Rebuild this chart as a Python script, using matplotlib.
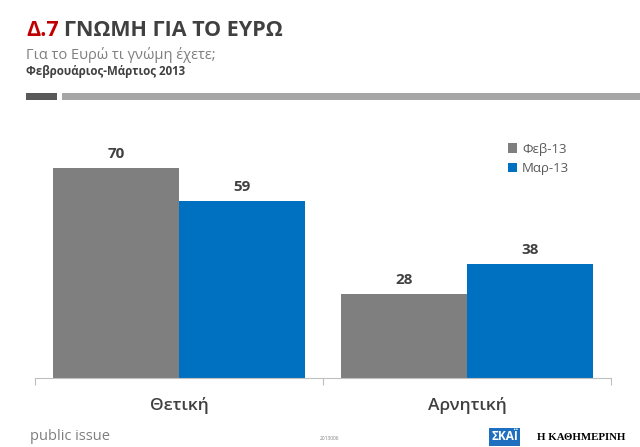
import matplotlib.pyplot as plt
import numpy as np
from matplotlib.patches import Rectangle

plt.rcParams['font.family'] = ['Open Sans', 'DejaVu Sans']

categories = ['Θετική', 'Αρνητική']
series_names = ['Φεβ-13', 'Μαρ-13']
feb = [70, 28]
mar = [59, 38]
colors = ['#7f7f7f', '#0070c0']

fig = plt.figure(figsize=(6.4, 4.47), dpi=100)
ax = fig.add_axes([0.0547, 0.1544, 0.9, 0.537])

x = np.arange(len(categories))
w = 0.4375
b1 = ax.bar(x - w / 2, feb, w, color=colors[0], label=series_names[0])
b2 = ax.bar(x + w / 2, mar, w, color=colors[1], label=series_names[1])
for bars in (b1, b2):
    for r in bars:
        ax.text(r.get_x() + r.get_width() / 2, r.get_height() + 2.3, str(int(r.get_height())),
                ha='center', va='bottom', fontsize=11, fontweight='bold', color='#404040')

ax.set_xlim(-0.5, 1.5)
ax.set_ylim(0, 80)
ax.set_yticks([])
ax.set_xticks([-0.5, 0.5, 1.5])
ax.set_xticklabels([])
ax.set_xticks(x, minor=True)
ax.set_xticklabels(categories, minor=True, fontsize=12.5, color='#404040', fontweight='semibold')
ax.tick_params(axis='x', which='minor', length=0, pad=14)
ax.tick_params(axis='x', which='major', length=5, color='#bfbfbf', direction='out')
for s in ['top', 'right', 'left']:
    ax.spines[s].set_visible(False)
ax.spines['bottom'].set_color('#bfbfbf')

leg = ax.legend(loc='upper left', bbox_to_anchor=(0.8, 1.03), frameon=False, fontsize=9.5,
                handlelength=0.7, handleheight=0.7, handletextpad=0.4, labelspacing=0.5)
for t in leg.get_texts():
    t.set_color('#595959')

# header
fig.text(26 / 640, 1 - 30 / 447, 'Δ.7', fontsize=15.5, fontweight='bold', color='#c00000', va='center')
fig.text(64 / 640, 1 - 30 / 447, 'ΓΝΩΜΗ ΓΙΑ ΤΟ ΕΥΡΩ', fontsize=15.5, fontweight='bold', color='#404040', va='center')
fig.text(26 / 640, 1 - 55 / 447, 'Για το Ευρώ τι γνώμη έχετε;', fontsize=10.5, color='#7f7f7f', va='center')
fig.text(26 / 640, 1 - 72 / 447, 'Φεβρουάριος-Μάρτιος 2013', fontsize=8.3, fontweight='bold', color='#404040', va='center')
fig.add_artist(Rectangle((26 / 640, 1 - 100 / 447), 31 / 640, 7 / 447, transform=fig.transFigure,
                         color='#595959', lw=0))
fig.add_artist(Rectangle((62 / 640, 1 - 100 / 447), 578 / 640, 7 / 447, transform=fig.transFigure,
                         color='#a6a6a6', lw=0))

# footer
fig.text(30 / 640, 1 - 437 / 447, 'public issue', fontsize=10.5, color='#7f7f7f', va='center')
fig.text(320 / 640, 1 - 438 / 447, '2013006', fontsize=3.5, color='#7f7f7f', va='center')
fig.text(491 / 640, 1 - 437 / 447, 'ΣΚΑΪ', fontsize=8.5, fontweight='bold', color='white', va='center',
         bbox=dict(boxstyle='square,pad=0.2', fc='#1f6fc0', ec='none'))
fig.text(537 / 640, 1 - 437 / 447, 'Η ΚΑΘΗΜΕΡΙΝΗ', fontsize=7.8, color='black', va='center',
         family='Liberation Serif', fontweight='bold')

fig.savefig('out.png', dpi=100)
